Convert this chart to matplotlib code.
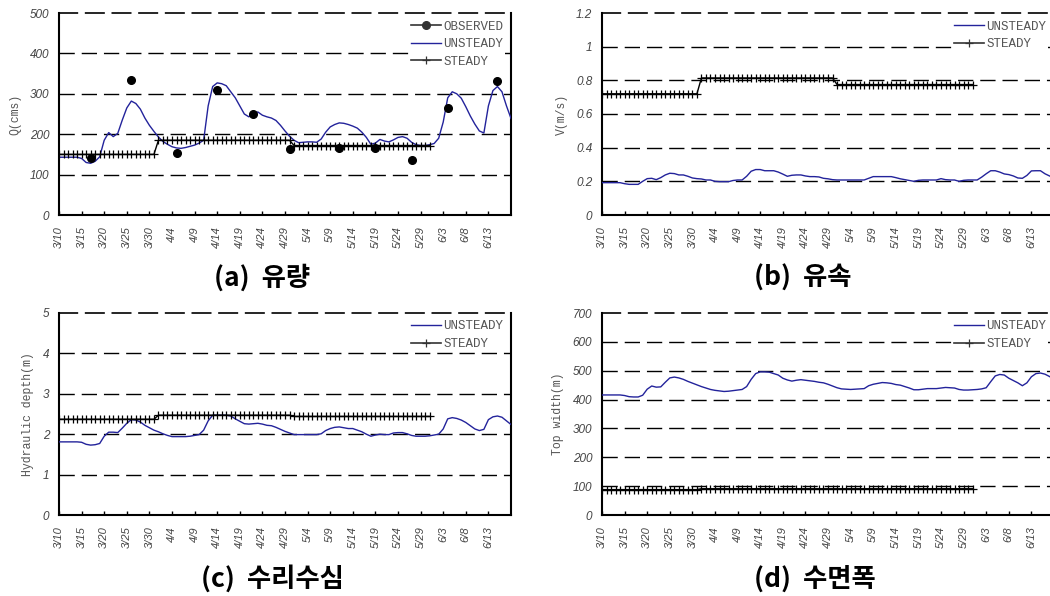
import numpy as np
import matplotlib
matplotlib.use("Agg")
import matplotlib.pyplot as plt
from matplotlib.lines import Line2D

# --------------------------------------------
# data (daily, 3/10 ~ 6/18)
# --------------------------------------------

date_labels = ["3/10", "3/15", "3/20", "3/25", "3/30", "4/4", "4/9", "4/14", "4/19", "4/24",
               "4/29", "5/4", "5/9", "5/14", "5/19", "5/24", "5/29", "6/3", "6/8", "6/13"]

# (a) discharge Q (cms)
q_unsteady = [143, 143, 143, 143, 143, 140, 130, 128, 133, 144,
              185, 204, 194, 202, 235, 265, 282, 276, 262, 240,
              222, 207, 193, 182, 175, 169, 166, 165, 167, 170,
              173, 178, 185, 270, 318, 327, 325, 320, 305, 290,
              270, 250, 243, 252, 255, 247, 243, 240, 234, 222,
              208, 195, 185, 179, 180, 181, 181, 180, 188, 205,
              218, 224, 228, 227, 224, 220, 215, 205, 192, 175,
              178, 187, 183, 181, 186, 192, 194, 190, 180, 174,
              172, 172, 174, 177, 190, 230, 290, 305, 300, 289,
              268, 245, 225, 208, 203, 270, 308, 318, 305, 270, 239]
q_steady = [150] * 22 + [185] * 30 + [172] * 31
q_obs_day = [7, 16, 26, 35, 43, 51, 62, 70, 78, 86, 97]
q_obs = [140, 334, 153, 309, 250, 163, 165, 165, 136, 266, 332]

# (b) velocity V (m/s)
v_unsteady = [.192, .192, .192, .192, .192, .186, .182, .182, .182, .2,
              .216, .218, .21, .222, .238, .248, .246, .238, .238, .23,
              .22, .216, .214, .208, .208, .2, .198, .198, .198, .205,
              .208, .208, .23, .26, .27, .27, .263, .263, .263, .255,
              .243, .23, .236, .238, .238, .232, .228, .228, .226, .218,
              .215, .21, .208, .208, .208, .208, .208, .208, .208, .218,
              .228, .228, .228, .228, .228, .222, .215, .21, .205, .2,
              .206, .208, .208, .208, .208, .216, .21, .208, .208, .2,
              .206, .208, .208, .208, .225, .245, .263, .263, .255, .244,
              .24, .232, .22, .218, .235, .262, .263, .263, .245, .232, .22]
v_steady = [0.72] * 22 + [0.814] * 30 + [0.775] * 31

# (c) hydraulic depth (m)
d_unsteady = [1.81, 1.81, 1.81, 1.81, 1.81, 1.80, 1.75, 1.73, 1.74, 1.77,
              1.95, 2.05, 2.05, 2.04, 2.15, 2.27, 2.36, 2.35, 2.30, 2.22,
              2.16, 2.10, 2.06, 2.01, 1.97, 1.94, 1.94, 1.94, 1.94, 1.95,
              1.97, 1.99, 2.10, 2.33, 2.47, 2.47, 2.47, 2.47, 2.45, 2.38,
              2.32, 2.26, 2.25, 2.26, 2.27, 2.25, 2.22, 2.21, 2.17, 2.12,
              2.07, 2.03, 1.99, 1.99, 1.99, 1.99, 1.99, 1.99, 2.01, 2.09,
              2.14, 2.17, 2.18, 2.16, 2.14, 2.14, 2.10, 2.06, 2.00, 1.95,
              1.98, 2.00, 1.99, 1.99, 2.03, 2.04, 2.04, 2.01, 1.97, 1.95,
              1.95, 1.95, 1.96, 1.98, 2.00, 2.13, 2.38, 2.41, 2.39, 2.35,
              2.29, 2.21, 2.13, 2.09, 2.12, 2.36, 2.43, 2.45, 2.42, 2.33, 2.24]
d_steady = [2.37] * 22 + [2.47] * 30 + [2.44] * 31

# (d) top width (m)
w_unsteady = [416, 416, 416, 416, 416, 414, 410, 409, 409, 415,
              436, 447, 443, 444, 460, 475, 478, 475, 470, 463,
              457, 451, 445, 440, 435, 432, 430, 428, 429, 431,
              433, 435, 445, 470, 490, 496, 496, 495, 490, 485,
              474, 468, 464, 467, 469, 467, 465, 463, 460, 458,
              453, 447, 441, 437, 436, 435, 436, 437, 438, 448,
              453, 456, 459, 458, 456, 452, 450, 445, 440, 434,
              434, 436, 438, 438, 438, 440, 442, 441, 440, 435,
              433, 433, 434, 435, 437, 441, 462, 482, 487, 485,
              474, 466, 458, 448, 458, 479, 490, 492, 488, 480, 470]
w_steady = [88] * 22 + [91] * 30 + [91] * 31

# --------------------------------------------
# style
# --------------------------------------------

BLUE = "#23239b"
GRAY = "#555555"
DASH = (0, (11, 5))
MONO = "Liberation Mono"
TICKFONT = "Liberation Sans"


def draw_panel(ax, unsteady, steady, ymax, ystep, ylabel, obs_day=None, obs=None, right_spine=True):
    days = np.arange(len(unsteady))
    ax.plot(days, unsteady, color=BLUE, lw=1.0, zorder=3)
    sdays = np.arange(len(steady))
    ax.plot(sdays, steady, color="black", lw=1.0, marker="+", ms=6, mew=0.9, zorder=4)
    handles = []
    labels = []
    if obs is not None:
        ax.plot(obs_day, obs, ls="none", marker="o", ms=5.5, color="black", zorder=5)
        handles.append(Line2D([], [], color="#333333", lw=1.2, marker="o", ms=5.5))
        labels.append("OBSERVED")
    handles.append(Line2D([], [], color=BLUE, lw=1.0))
    labels.append("UNSTEADY")
    handles.append(Line2D([], [], color="#333333", lw=1.2, marker="+", ms=6, mew=0.9))
    labels.append("STEADY")

    ax.set_xlim(0, 100)
    ax.set_ylim(0, ymax)
    yt = np.arange(0, ymax + ystep / 2, ystep)
    ax.set_yticks(yt)
    ax.set_yticklabels(["%g" % round(v, 2) for v in yt], fontstyle="italic",
                       family=TICKFONT, fontsize=8.5, color="#444444")
    ax.set_xticks(np.arange(0, 100, 5))
    ax.set_xticklabels(date_labels, rotation=90, fontstyle="italic",
                       family=TICKFONT, fontsize=8, color="#444444")
    ax.tick_params(axis="x", direction="in", length=3, width=1, pad=8)
    ax.tick_params(axis="y", length=0, pad=7)

    for v in yt[1:-1]:
        ax.axhline(v, color="black", lw=1.0, ls=DASH, zorder=1)
    for s in ["left", "bottom", "right"]:
        ax.spines[s].set_linewidth(1.5)
    ax.spines["top"].set_linestyle(DASH)
    ax.spines["top"].set_linewidth(1.2)
    ax.spines["right"].set_visible(right_spine)

    ax.set_ylabel(ylabel, family=MONO, fontsize=8.3, color=GRAY, labelpad=6)

    leg = ax.legend(handles, labels, loc="upper right", frameon=True, fancybox=False,
                    handlelength=2.4, handletextpad=0.2, labelspacing=0.45,
                    borderaxespad=0.45, borderpad=0.15, prop={"family": MONO, "size": 9})
    leg.get_frame().set_edgecolor("none")
    leg.get_frame().set_facecolor("white")
    leg.get_frame().set_alpha(1.0)
    leg.set_zorder(6)
    for t in leg.get_texts():
        t.set_color(GRAY)


# --------------------------------------------
# figure
# --------------------------------------------

fig = plt.figure(figsize=(10.5, 5.96), dpi=100)

W, H = 1050.0, 596.0
aw = 452 / W
ah = 202 / H
ax_a = fig.add_axes([59 / W, 1 - 215 / H, aw, ah])
ax_b = fig.add_axes([602 / W, 1 - 215 / H, aw, ah])
ax_c = fig.add_axes([59 / W, 1 - 515 / H, aw, ah])
ax_d = fig.add_axes([602 / W, 1 - 515 / H, aw, ah])

draw_panel(ax_a, q_unsteady, q_steady, 500, 100, "Q(cms)", q_obs_day, q_obs)
draw_panel(ax_b, v_unsteady, v_steady, 1.2, 0.2, "V(m/s)", right_spine=False)
draw_panel(ax_c, d_unsteady, d_steady, 5, 1, "Hydraulic depth(m)")
draw_panel(ax_d, w_unsteady, w_steady, 700, 100, "Top width(m)", right_spine=False)

title_font = ["Noto Sans CJK KR", "DejaVu Sans"]
tkw = dict(ha="center", va="center", fontsize=19, fontweight="bold", family=title_font)
fig.text(262 / W, 1 - 278 / H, "(a)  유량", **tkw)
fig.text(803 / W, 1 - 278 / H, "(b)  유속", **tkw)
fig.text(272 / W, 1 - 579 / H, "(c)  수리수심", **tkw)
fig.text(815 / W, 1 - 579 / H, "(d)  수면폭", **tkw)

fig.savefig("out.png", dpi=100)
